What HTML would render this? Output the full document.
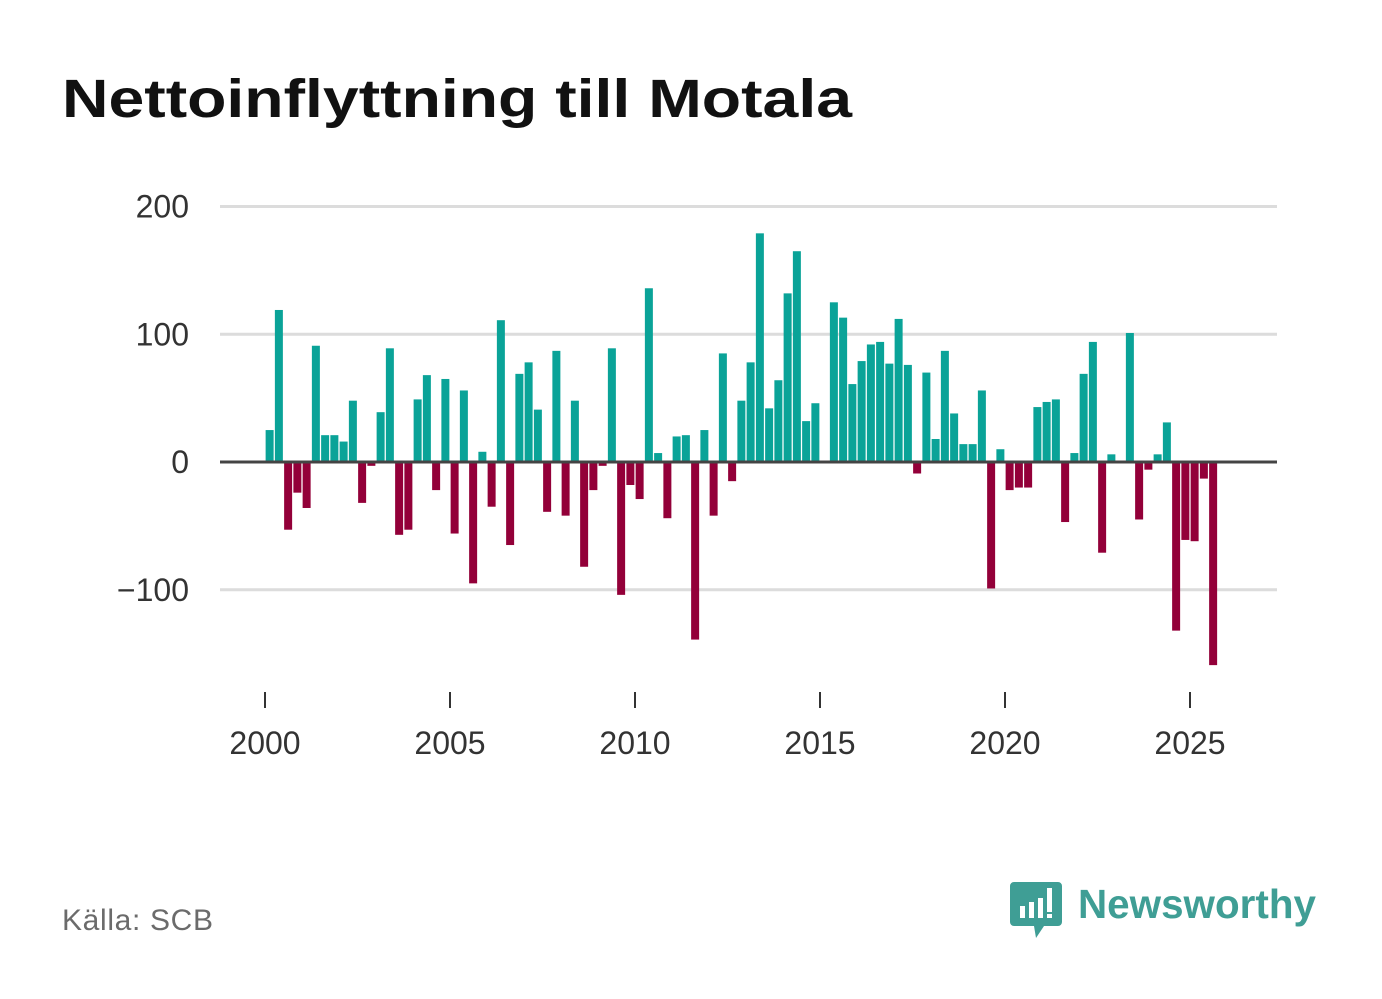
<!DOCTYPE html>
<html><head><meta charset="utf-8"><style>
body{margin:0;background:#fff;}
svg{display:block;font-family:"Liberation Sans",sans-serif;}
</style></head><body>
<svg id="chart" width="1382" height="999" viewBox="0 0 1382 999">
<text x="62" y="117" font-size="54" font-weight="bold" fill="#111" textLength="790" lengthAdjust="spacingAndGlyphs">Nettoinflyttning till Motala</text>
<g id="grid"></g>
<g id="bars"></g>
<g id="xaxis"></g>
<text x="62" y="930" font-size="30" fill="#6b6b6b" textLength="151">Källa: SCB</text>
<g>
<path d="M1014 882 h44 a4 4 0 0 1 4 4 v36 a4 4 0 0 1 -4 4 h-14 l-8 12 l-2 -12 h-20 a4 4 0 0 1 -4 -4 v-36 a4 4 0 0 1 4 -4z" fill="#3f9e95"/>
<rect x="1020" y="906" width="5" height="12" fill="#fff"/>
<rect x="1029" y="902" width="5" height="16" fill="#fff"/>
<rect x="1038" y="898" width="5" height="20" fill="#fff"/>
<rect x="1047" y="888" width="5" height="24" fill="#fff"/>
<rect x="1047" y="914" width="5" height="4" fill="#fff"/>
<text x="1078" y="918" font-size="41" font-weight="bold" fill="#3f9e95" textLength="238" lengthAdjust="spacingAndGlyphs">Newsworthy</text>
</g>
</svg>
<script>
const yTicks=[200,100,0,-100];
const yTickLabels=["200","100","0","\u2212100"];
const xTickYears=[2000,2005,2010,2015,2020,2025];
const values=[25,119,-53,-24,-36,91,21,21,16,48,-32,-3,39,89,-57,-53,49,68,-22,65,-56,56,-95,8,-35,111,-65,69,78,41,-39,87,-42,48,-82,-22,-3,89,-104,-18,-29,136,7,-44,20,21,-139,25,-42,85,-15,48,78,179,42,64,132,165,32,46,0,125,113,61,79,92,94,77,112,76,-9,70,18,87,38,14,14,56,-99,10,-22,-20,-20,43,47,49,-47,7,69,94,-71,6,0,101,-45,-6,6,31,-132,-61,-62,-13,-159,-1];
const ns="http://www.w3.org/2000/svg";
function y(v){return 462-v*1.2775;}
function xYear(t){return 265+(t-2000)*37;}
function xQ(i){return xYear(2000+(i+0.5)/4);}
const grid=document.getElementById('grid'),bars=document.getElementById('bars'),xa=document.getElementById('xaxis');
yTicks.forEach((t,k)=>{
  if(t!==0){const l=document.createElementNS(ns,'line');
  l.setAttribute('x1',220);l.setAttribute('x2',1277);l.setAttribute('y1',y(t));l.setAttribute('y2',y(t));
  l.setAttribute('stroke','#dcdcdc');l.setAttribute('stroke-width',3);
  
  
  grid.appendChild(l);}
  const tx=document.createElementNS(ns,'text');
  tx.setAttribute('x',189);tx.setAttribute('y',y(t)+11);tx.setAttribute('text-anchor','end');
  tx.setAttribute('font-size',32);tx.setAttribute('fill','#333');tx.textContent=yTickLabels[k];
  
  
  grid.appendChild(tx);
});
values.forEach((v,i)=>{
  const r=document.createElementNS(ns,'rect');
  const x=xQ(i);
  r.setAttribute('x',x-4);r.setAttribute('width',8);
  r.setAttribute('y',Math.min(y(v),y(0)));r.setAttribute('height',Math.abs(y(v)-y(0)));
  r.setAttribute('fill',v>=0?'#0aa398':'#930039');
  
  
  bars.appendChild(r);
});
const zl=document.createElementNS(ns,'line');
zl.setAttribute('x1',220);zl.setAttribute('x2',1277);zl.setAttribute('y1',y(0));zl.setAttribute('y2',y(0));
zl.setAttribute('stroke','#444');zl.setAttribute('stroke-width',3);


bars.appendChild(zl);
xTickYears.forEach(t=>{
  const l=document.createElementNS(ns,'line');
  l.setAttribute('x1',xYear(t));l.setAttribute('x2',xYear(t));l.setAttribute('y1',692);l.setAttribute('y2',708);
  l.setAttribute('stroke','#333');l.setAttribute('stroke-width',2);
  
  
  xa.appendChild(l);
  const tx=document.createElementNS(ns,'text');
  tx.setAttribute('x',xYear(t));tx.setAttribute('y',754);tx.setAttribute('text-anchor','middle');
  tx.setAttribute('font-size',32);tx.setAttribute('fill','#333');tx.textContent=t;
  
  
  xa.appendChild(tx);
});
</script>
</body></html>
